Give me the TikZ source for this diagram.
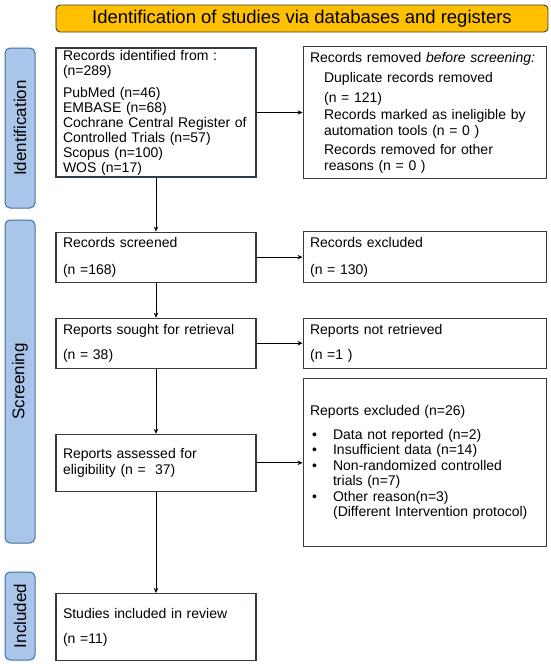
\documentclass[tikz,border=0pt]{standalone}
\usepackage{fontspec}
\setmainfont{Liberation Sans}
\usetikzlibrary{arrows.meta,positioning}
\definecolor{prgold}{HTML}{FFC000}
\definecolor{prgoldline}{HTML}{404040}
\definecolor{prphase}{HTML}{A9C6EA}
\definecolor{prphaseline}{HTML}{41719C}
\definecolor{prline}{HTML}{2F3B47}
\tikzset{
 titlebar/.style={rectangle, draw=prgoldline, fill=prgold, rounded corners=4pt,
 line width=0.9pt, inner sep=0pt, font=\fontsize{18.5}{21}\selectfont},
 phasebar/.style={rectangle, draw=prphaseline, fill=prphase, rounded corners=5pt,
 line width=1pt, rotate=90, minimum height=30pt, inner sep=0pt,
 font=\fontsize{17}{20}\selectfont},
 prbox/.style={rectangle, draw=prline, fill=white, line width=1.1pt,
 align=left, inner xsep=7pt, inner ysep=2pt, font=\fontsize{14}{16}\selectfont},
 leftbox/.style={prbox, text width=186pt},
 rightbox/.style={prbox, text width=229pt},
 flowarrow/.style={-{Stealth[length=5pt,width=4.5pt]}, line width=0.8pt, draw=black},
}
\newcommand{\subline}{\hspace*{14pt}}
\newcommand{\bulletline}{\hspace*{2pt}\makebox[21pt][l]{\textbullet}}
\newcommand{\contline}{\hspace*{23pt}}

\begin{document}
\begin{tikzpicture}[x=1pt, y=-1pt]
\useasboundingbox (0,0) rectangle (550,664);

% title and phase bars
\node[titlebar, minimum width=492pt, minimum height=27pt] (title) at (302,18.5)
  {Identification of studies via databases and registers};
\node[phasebar, minimum width=160pt] (identbar) at (20,128) {Identification};
\node[phasebar, minimum width=323pt] (screenbar) at (20,381.5) {Screening};
\node[phasebar, minimum width=88pt] (inclbar) at (20,616) {Included};

% left column
\node[leftbox, minimum height=129pt, font=\fontsize{14}{15}\selectfont] (ident) at (156,112.5) {%
  Records identified from :\\
  (n=289)\\[7pt]
  PubMed (n=46)\\
  EMBASE (n=68)\\
  Cochrane Central Register of\\
  Controlled Trials (n=57)\\
  Scopus (n=100)\\
  WOS (n=17)};

\node[leftbox, below=54pt of ident, minimum height=50pt] (screened) {%
  Records screened\\[11pt]
  (n =168)};

\node[leftbox, below=35pt of screened, minimum height=50pt] (sought) {%
  Reports sought for retrieval\\[9pt]
  (n = 38)};

\node[leftbox, below=65pt of sought, minimum height=57pt] (assessed) {%
  Reports assessed for\\
  eligibility (n =\ \ 37)};

\node[leftbox, below=101pt of assessed, minimum height=67pt] (included) {%
  Studies included in review\\[9pt]
  (n =11)};

% right column
\node[rightbox, right=46pt of ident, minimum height=132pt] (removed) {%
  Records removed \textit{before screening:}\\[4pt]
  \subline Duplicate records removed\\[4pt]
  \subline (n = 121)\\[1pt]
  \subline Records marked as ineligible by\\
  \subline automation tools (n = 0 )\\[3pt]
  \subline Records removed for other\\
  \subline reasons (n = 0 )};

\node[rightbox, right=46pt of screened, minimum height=51pt] (excluded) {%
  Records excluded\\[11pt]
  (n = 130)};

\node[rightbox, right=46pt of sought, minimum height=50pt] (notretr) {%
  Reports not retrieved\\[9pt]
  (n =1 )};

\node[rightbox, right=46pt of assessed, minimum height=168pt,
      font=\fontsize{14}{15.5}\selectfont] (repexcl) {%
  Reports excluded (n=26)\\[8pt]
  \bulletline Data not reported (n=2)\\
  \bulletline Insufficient data (n=14)\\
  \bulletline Non-randomized controlled\\
  \contline trials (n=7)\\
  \bulletline Other reason(n=3)\\
  \contline (Different Intervention protocol)};

% arrows
\draw[flowarrow] (ident)    -- (screened);
\draw[flowarrow] (screened) -- (sought);
\draw[flowarrow] (sought)   -- (assessed);
\draw[flowarrow] (assessed) -- (included);
\draw[flowarrow] (ident)    -- (removed);
\draw[flowarrow] (screened) -- (excluded);
\draw[flowarrow] (sought)   -- (notretr);
\draw[flowarrow] (assessed) -- (repexcl);

\end{tikzpicture}
\end{document}
